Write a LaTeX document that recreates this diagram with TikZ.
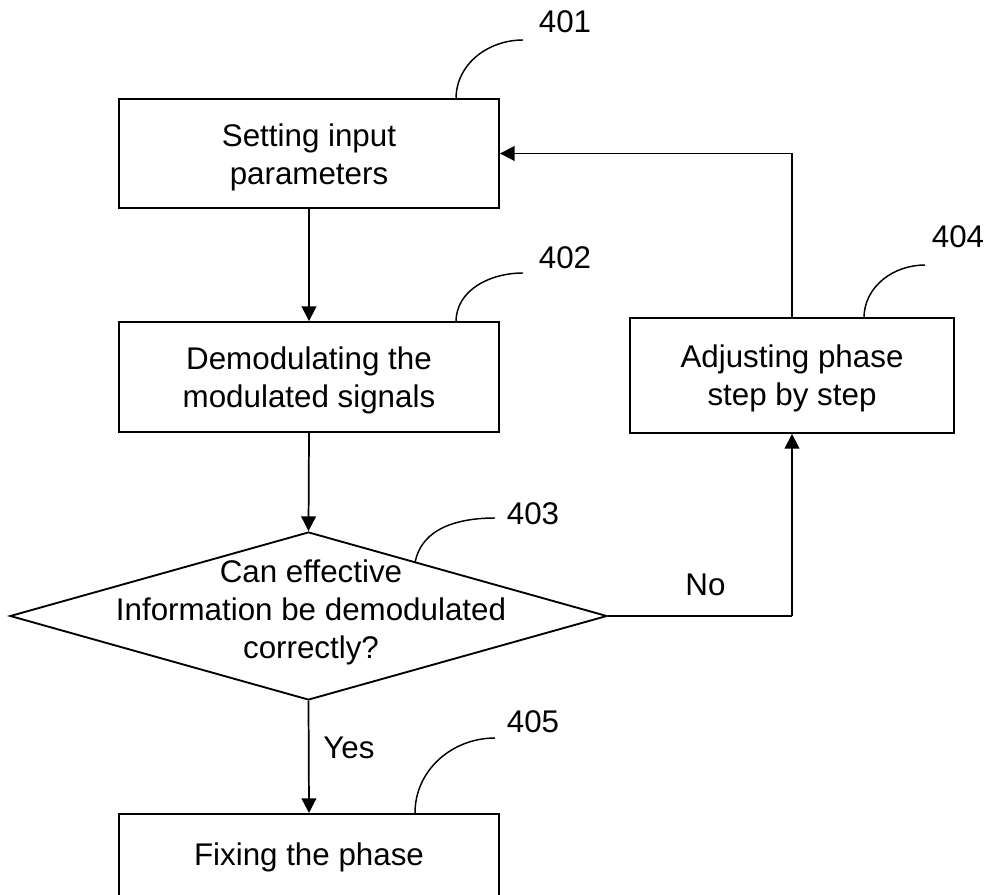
\documentclass[tikz,border=0pt]{standalone}
\usepackage{fontspec}
\setmainfont{Liberation Sans}
\usetikzlibrary{shapes.geometric,arrows.meta}
\begin{document}
\begin{tikzpicture}[x=0.75pt,y=-0.75pt,
  txt/.style={font=\fontsize{23.5}{28.5}\selectfont,align=center},
  stepbox/.style={draw,line width=1.4pt,inner sep=0pt,txt},
  decision/.style={draw,diamond,line width=1.4pt,inner sep=0pt},
  flow/.style={line width=1.3pt,-{Triangle[length=11pt,width=11pt]}},
  plain/.style={line width=1.3pt},
  leader/.style={line width=1.1pt},
  refnum/.style={txt,inner sep=0pt}]
\useasboundingbox (0,0) rectangle (992,895);
\clip (0,0) rectangle (992,895);

% process steps (boxes drawn empty, wording placed at its own centre)
\node[stepbox,minimum width=285pt,minimum height=81.75pt] (s401) at (309,153.5) {};
\node[txt] (t401) at (309,157) {Setting input\\parameters};
\node[stepbox,minimum width=285pt,minimum height=82.5pt] (s402) at (309,377) {};
\node[txt] (t402) at (309,380) {Demodulating the\\modulated signals};
\node[stepbox,minimum width=243pt,minimum height=86.25pt] (s404) at (792,375.5) {};
\node[txt] (t404) at (792,378) {Adjusting phase\\step by step};
\node[stepbox,minimum width=285pt,minimum height=82.5pt,anchor=north] (s405) at (309,813) {};
\node[txt] (t405) at (309,857) {Fixing the phase};

% decision
\node[decision,minimum width=447.75pt,minimum height=126pt] (s403) at (308.5,616) {};
\node[txt] (t403) at (311,612) {Can effective\\Information be demodulated\\correctly?};

% connectors
\draw[flow] (s401.south) -- (s402.north);
\draw[flow] (s402.south) -- (s403.north);
\draw[flow] (s403.south) -- node[txt,right,pos=0.42,xshift=7pt] (yes) {Yes} (s405.north);
\coordinate (noturn) at (792,616);
\draw[plain] (s403.east) -- node[txt,above,pos=0.53,yshift=11pt] (no) {No} (noturn);
\draw[flow] (noturn) -- (s404.south);
\draw[flow] (s404.north) |- (s401.east);

% reference numerals with leader curves
\node[refnum] (r401) at (565,22) {401};
\coordinate (e401) at (523,40);
\draw[leader] (456,99) to[out=90,in=180] (e401);

\node[refnum] (r402) at (565,258) {402};
\coordinate (e402) at (523,273);
\draw[leader] (456,322) to[out=90,in=180] (e402);

\node[refnum] (r403) at (533,514) {403};
\coordinate (e403) at (495,518);
\draw[leader] (415,563) to[out=80,in=180] (e403);

\node[refnum] (r404) at (958,237) {404};
\coordinate (e404) at (925,265);
\draw[leader] (864,318) to[out=90,in=180] (e404);

\node[refnum] (r405) at (533,722) {405};
\coordinate (e405) at (495,738);
\draw[leader] (415,813) to[out=90,in=180] (e405);
\end{tikzpicture}
\end{document}
